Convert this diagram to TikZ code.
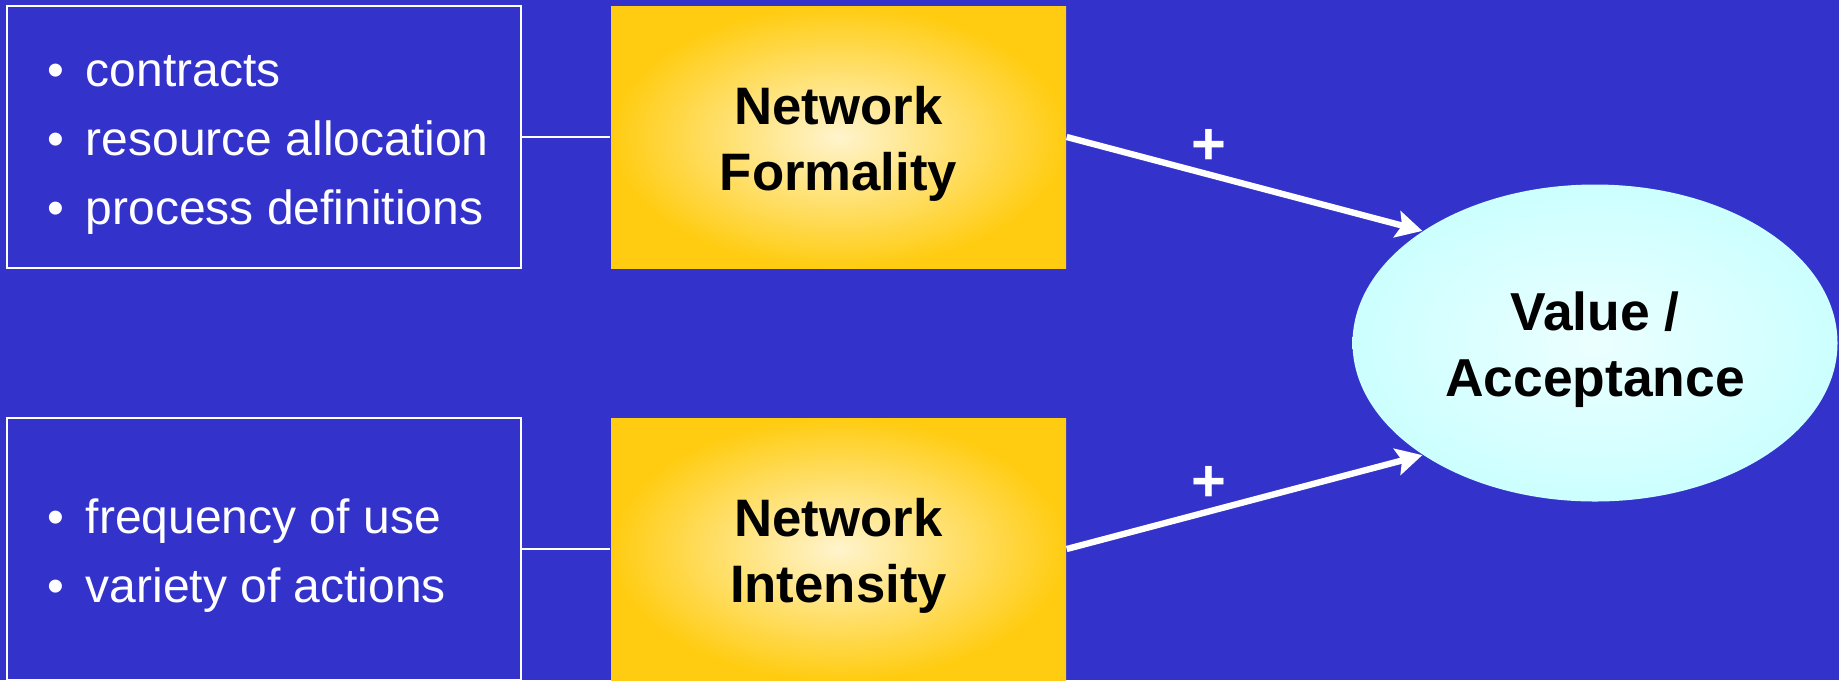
\documentclass[tikz,border=0pt]{standalone}
\usepackage{fontspec}
\setmainfont{Liberation Sans}
\usetikzlibrary{arrows.meta,shapes.geometric}

\definecolor{slideblue}{RGB}{51,51,204}
\definecolor{boxgold}{RGB}{255,204,17}
\definecolor{boxcream}{RGB}{255,244,205}
\definecolor{ovalcore}{RGB}{236,255,255}
\definecolor{ovalrim}{RGB}{204,255,255}
\newcommand{\bitem}[1]{\makebox[0.384cm][l]{\textbullet}#1}

\begin{document}
\begin{tikzpicture}[
        list/.style={rectangle, draw=white, line width=0.5pt, minimum width=5.14cm, minimum height=2.62cm},
        items/.style={anchor=west, inner sep=0pt, align=left, text=white, font=\fontsize{13.66}{19.6}\selectfont},
        factor/.style={rectangle, inner color=boxcream, outer color=boxgold, minimum width=4.55cm, minimum height=2.62cm, align=center, text height=1.18cm, font=\fontsize{15}{18.8}\selectfont\bfseries},
        goal/.style={ellipse, inner color=ovalcore, outer color=ovalrim, minimum width=4.85cm, minimum height=3.17cm, align=center, text height=1.18cm, font=\fontsize{15.2}{18.8}\selectfont\bfseries},
        link/.style={draw=white, line width=0.8pt},
        arrow/.style={-{Stealth[length=2.6mm, width=2.7mm, inset=0.5mm]}, draw=white, line width=1.8pt},
        plus/.style={text=white, yshift=-0.05cm, font=\fontsize{17}{17}\selectfont\bfseries}
    ]
        \path[fill=slideblue, use as bounding box] (0,0) rectangle (18.39,6.80);

        \node[list] (formlist) at (2.64,5.43) {};
        \node[items] (formitems) at ([xshift=0.406cm, yshift=-0.08cm]formlist.west) {\bitem{contracts}\\\bitem{resource allocation}\\\bitem{process definitions}};
        \node[factor] (formal) at (8.385,5.43) {Network\\Formality};
        \node[list] (intlist) at (2.64,1.31) {};
        \node[items] (intitems) at ([xshift=0.406cm, yshift=-0.065cm]intlist.west) {\bitem{frequency of use}\\\bitem{variety of actions}};
        \node[factor] (intense) at (8.385,1.31) {Network\\Intensity};
        \node[goal] (value) at (15.95,3.37) {Value /\\Acceptance};

        \draw[link] (formlist) -- (formal);
        \draw[link] (intlist) -- (intense);
        \draw[arrow] (formal.east) -- node[plus, pos=0.4, above] (plusA) {+} (value.147);
        \draw[arrow] (intense.east) -- node[plus, pos=0.4, above] (plusB) {+} (value.213);
    \end{tikzpicture}
\end{document}
